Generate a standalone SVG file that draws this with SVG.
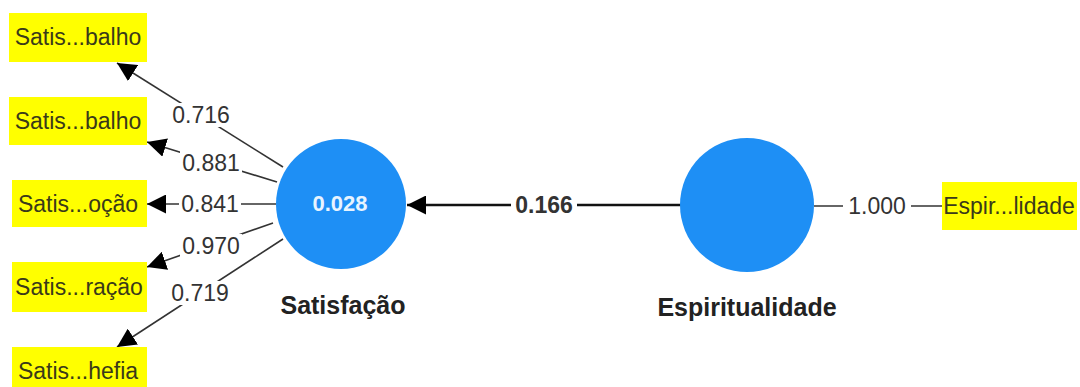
<svg xmlns="http://www.w3.org/2000/svg" width="1080" height="387" viewBox="0 0 1080 387">
<defs>
<style>
.box{fill:#ffff00}
.bt{font-family:"Liberation Sans",Arial,sans-serif;font-size:23px;fill:#3a3a1a;text-anchor:middle}
.num{font-family:"Liberation Sans",Arial,sans-serif;font-size:23px;fill:#333;text-anchor:middle}
.lbg{fill:#fff}
.ln{stroke:#333;stroke-width:1.6;fill:none}
.lv{fill:#1e8ff5}
.name{font-family:"Liberation Sans",Arial,sans-serif;font-size:25px;font-weight:bold;fill:#222;text-anchor:middle}
</style>
<marker id="ah2" viewBox="0 0 10 10" refX="10" refY="5" markerWidth="19" markerHeight="19" markerUnits="userSpaceOnUse" orient="auto">
<path d="M0,0 L10,5 L0,10 z" fill="#000"/>
</marker>
</defs>
<rect width="1080" height="387" fill="#fff"/>
<g id="connectors">
<line class="ln" x1="283" y1="167" x2="117" y2="63" marker-end="url(#ah2)"/>
<line class="ln" x1="277" y1="182" x2="147" y2="142" marker-end="url(#ah2)"/>
<line class="ln" x1="276" y1="204" x2="147" y2="204" marker-end="url(#ah2)"/>
<line class="ln" x1="273" y1="223" x2="147" y2="267" marker-end="url(#ah2)"/>
<line class="ln" x1="283" y1="239" x2="117" y2="347" marker-end="url(#ah2)"/>
<line x1="681" y1="205" x2="407" y2="205" stroke="#111" stroke-width="2.6" marker-end="url(#ah2)"/>
<line class="ln" x1="814" y1="206" x2="942" y2="206"/>
<rect class="lbg" x="169" y="103" width="63" height="24"/>
<text class="num" x="201" y="123">0.716</text>
<rect class="lbg" x="180" y="151" width="62" height="24"/>
<text class="num" x="211" y="171">0.881</text>
<rect class="lbg" x="179" y="192" width="62" height="24"/>
<text class="num" x="210" y="212">0.841</text>
<rect class="lbg" x="180" y="234" width="62" height="24"/>
<text class="num" x="211" y="254">0.970</text>
<rect class="lbg" x="168" y="281" width="63" height="24"/>
<text class="num" x="200" y="301">0.719</text>
<rect class="lbg" x="511" y="193" width="66" height="24"/>
<text class="num" x="544" y="213" font-weight="bold" fill="#111">0.166</text>
<rect class="lbg" x="843" y="194" width="68" height="24"/>
<text class="num" x="877" y="214">1.000</text>
</g>
<g id="ind1"><rect class="box" x="9" y="13" width="138" height="49"/><text class="bt" x="78" y="45">Satis...balho</text></g>
<g id="ind2"><rect class="box" x="9" y="97" width="138" height="48"/><text class="bt" x="78" y="129">Satis...balho</text></g>
<g id="ind3"><rect class="box" x="12" y="180" width="135" height="47"/><text class="bt" x="78" y="212">Satis...oção</text></g>
<g id="ind4"><rect class="box" x="12" y="262" width="135" height="50"/><text class="bt" x="79" y="295">Satis...ração</text></g>
<g id="ind5"><rect class="box" x="12" y="347" width="135" height="48"/><text class="bt" x="78" y="379">Satis...hefia</text></g>
<g id="ind6"><rect class="box" x="942" y="182" width="135" height="48"/><text class="bt" x="1009" y="214">Espir...lidade</text></g>
<g id="satisfacao"><circle class="lv" cx="341" cy="204" r="65"/><text x="340" y="211" font-family="Liberation Sans,Arial,sans-serif" font-size="22" font-weight="bold" fill="#e8f4ff" text-anchor="middle">0.028</text><text class="name" x="343" y="314">Satisfação</text></g>
<g id="espiritualidade"><circle class="lv" cx="747" cy="205" r="67"/><text class="name" x="747" y="316">Espiritualidade</text></g>
</svg>
